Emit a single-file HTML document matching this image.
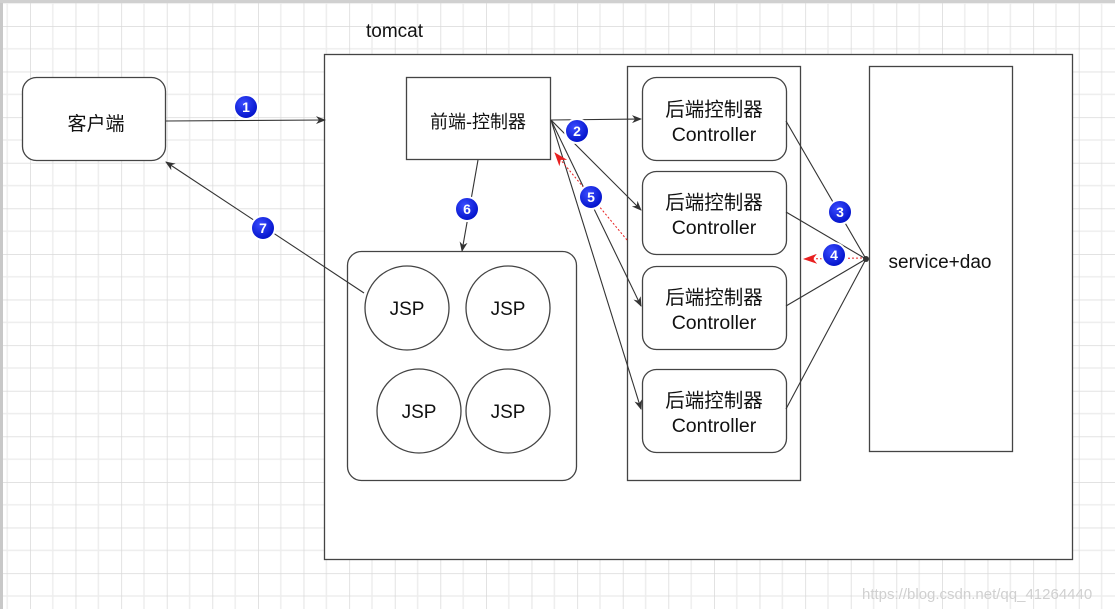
<!DOCTYPE html>
<html><head><meta charset="utf-8"><style>
html,body{margin:0;padding:0;background:#fff;}
svg{display:block;}
text{font-family:"Liberation Sans","Noto Sans CJK SC",sans-serif;}
</style></head><body>
<svg width="1115" height="609" viewBox="0 0 1115 609" xmlns="http://www.w3.org/2000/svg">
<defs>
<pattern id="g" x="-15.6" y="-19.6" width="45.6" height="45.6" patternUnits="userSpaceOnUse">
<line x1="22.8" y1="0" x2="22.8" y2="45.6" stroke="#ededed" stroke-width="1.5"/>
<line x1="0" y1="22.8" x2="45.6" y2="22.8" stroke="#ededed" stroke-width="1.5"/>
<line x1="0" y1="0" x2="0" y2="45.6" stroke="#d9d9d9" stroke-width="1.5"/>
<line x1="0" y1="0" x2="45.6" y2="0" stroke="#d9d9d9" stroke-width="1.5"/>
</pattern>
<marker id="a" markerWidth="10" markerHeight="8" refX="9" refY="4" orient="auto" markerUnits="userSpaceOnUse"><path d="M0,0 L10,4 L0,8 L3,4 z" fill="#333"/></marker>
<marker id="r" markerWidth="14" markerHeight="10" refX="13" refY="5" orient="auto" markerUnits="userSpaceOnUse"><path d="M0,0 L14,5 L0,10 L4,5 z" fill="#e82020"/></marker>
<radialGradient id="bg" cx="40%" cy="35%" r="65%"><stop offset="0" stop-color="#3a4cff"/><stop offset="1" stop-color="#0010c8"/></radialGradient>
</defs>
<rect width="1115" height="609" fill="#fff"/>
<rect width="1115" height="609" fill="url(#g)"/>
<rect x="0" y="0" width="3" height="609" fill="#c8c8c8"/>
<rect x="0" y="0" width="1115" height="3" fill="#d0d0d0"/>

<text x="366" y="37" font-size="19" fill="#111">tomcat</text>
<rect x="324.5" y="54.5" width="748" height="505" fill="#fff" stroke="#444" stroke-width="1.3"/>

<rect x="22.5" y="77.5" width="143" height="83" rx="14" fill="#fff" stroke="#444" stroke-width="1.3"/>
<text x="96" y="130" font-size="19" text-anchor="middle" fill="#111">客户端</text>

<rect x="406.5" y="77.5" width="144" height="82" fill="#fff" stroke="#444" stroke-width="1.3"/>
<text x="478" y="128" font-size="18" text-anchor="middle" fill="#111">前端-控制器</text>

<rect x="627.5" y="66.5" width="173" height="414" fill="#fff" stroke="#444" stroke-width="1.3"/>
<g fill="#fff" stroke="#444" stroke-width="1.3">
<rect x="642.5" y="77.5" width="144" height="83" rx="14"/>
<rect x="642.5" y="171.5" width="144" height="83" rx="14"/>
<rect x="642.5" y="266.5" width="144" height="83" rx="14"/>
<rect x="642.5" y="369.5" width="144" height="83" rx="14"/>
</g>
<g font-size="19.5" text-anchor="middle" fill="#111">
<text x="714" y="116">后端控制器</text><text x="714" y="141">Controller</text>
<text x="714" y="209">后端控制器</text><text x="714" y="234">Controller</text>
<text x="714" y="304">后端控制器</text><text x="714" y="329">Controller</text>
<text x="714" y="407">后端控制器</text><text x="714" y="432">Controller</text>
</g>

<rect x="869.5" y="66.5" width="143" height="385" fill="#fff" stroke="#444" stroke-width="1.3"/>
<text x="940" y="268" font-size="19" text-anchor="middle" fill="#111">service+dao</text>

<rect x="347.5" y="251.5" width="229" height="229" rx="14" fill="#fff" stroke="#444" stroke-width="1.3"/>
<g fill="#fff" stroke="#444" stroke-width="1.3">
<circle cx="407" cy="308" r="42"/><circle cx="508" cy="308" r="42"/>
<circle cx="419" cy="411" r="42"/><circle cx="508" cy="411" r="42"/>
</g>
<g font-size="19" text-anchor="middle" fill="#111">
<text x="407" y="315">JSP</text><text x="508" y="315">JSP</text>
<text x="419" y="418">JSP</text><text x="508" y="418">JSP</text>
</g>

<g stroke="#333" stroke-width="1.1" fill="none">
<line x1="166" y1="121" x2="325" y2="120" marker-end="url(#a)"/>
<line x1="551" y1="120" x2="641" y2="119" marker-end="url(#a)"/>
<line x1="551" y1="120" x2="641" y2="210" marker-end="url(#a)"/>
<line x1="551" y1="120" x2="641" y2="306" marker-end="url(#a)"/>
<line x1="551" y1="120" x2="641" y2="409" marker-end="url(#a)"/>
<line x1="786" y1="121" x2="866" y2="259"/>
<line x1="786" y1="212" x2="866" y2="259"/>
<line x1="786" y1="306" x2="866" y2="259"/>
<line x1="786" y1="409" x2="866" y2="259"/>
<line x1="478" y1="160" x2="462" y2="251" marker-end="url(#a)"/>
<line x1="364" y1="293" x2="166" y2="162" marker-end="url(#a)"/>
</g>
<circle cx="866" cy="259" r="3" fill="#333"/>
<line x1="627" y1="240" x2="555" y2="153" stroke="#e82020" stroke-width="1" stroke-dasharray="2,2" marker-end="url(#r)"/>
<line x1="862" y1="258" x2="804" y2="259" stroke="#e82020" stroke-width="1" stroke-dasharray="2,2" marker-end="url(#r)"/>

<g font-size="14" font-weight="bold" text-anchor="middle" fill="#fff">
<g><circle cx="246" cy="107" r="12" fill="url(#bg)" stroke="#fff" stroke-width="2"/><text x="246" y="112">1</text></g>
<g><circle cx="577" cy="131" r="12" fill="url(#bg)" stroke="#fff" stroke-width="2"/><text x="577" y="136">2</text></g>
<g><circle cx="840" cy="212" r="12" fill="url(#bg)" stroke="#fff" stroke-width="2"/><text x="840" y="217">3</text></g>
<g><circle cx="834" cy="255" r="12" fill="url(#bg)" stroke="#fff" stroke-width="2"/><text x="834" y="260">4</text></g>
<g><circle cx="591" cy="197" r="12" fill="url(#bg)" stroke="#fff" stroke-width="2"/><text x="591" y="202">5</text></g>
<g><circle cx="467" cy="209" r="12" fill="url(#bg)" stroke="#fff" stroke-width="2"/><text x="467" y="214">6</text></g>
<g><circle cx="263" cy="228" r="12" fill="url(#bg)" stroke="#fff" stroke-width="2"/><text x="263" y="233">7</text></g>
</g>

<text x="862" y="599" font-size="15" fill="#d0d0d0">https://blog.csdn.net/qq_41264440</text>
</svg>
</body></html>
